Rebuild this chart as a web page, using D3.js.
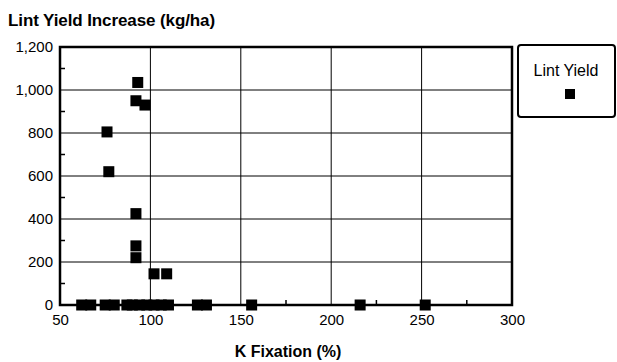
<!DOCTYPE html>
<html>
<head>
<meta charset="utf-8">
<script src="https://cdn.jsdelivr.net/npm/d3@7"></script>
<style>
  body { margin: 0; background: #fff; }
  svg { display: block; font-family: "Liberation Sans", Arial, sans-serif; }
</style>
</head>
<body>
<div id="chart"></div>
<script>
// K fixation (%) vs lint yield increase (kg/ha)
const kFixation = [93, 92, 97, 76, 77, 92, 92, 92, 102, 109,
  62, 67, 75, 80, 87, 90, 94, 98, 102, 106, 110, 126, 131, 156, 216, 252];
const lintYield = [1035, 950, 930, 805, 620, 425, 275, 220, 145, 145,
  0, 0, 0, 0, 0, 0, 0, 0, 0, 0, 0, 0, 0, 0, 0, 0];
const xTicks = [50, 100, 150, 200, 250, 300];
const yTicks = [0, 200, 400, 600, 800, 1000, 1200];
const seriesName = 'Lint Yield';

const width = 617, height = 362;
const margin = { top: 47, right: 105, bottom: 57, left: 60 };

const svg = d3.select('#chart').append('svg')
  .attr('width', width)
  .attr('height', height);

const x = d3.scaleLinear().domain([50, 300]).range([margin.left, width - margin.right]);
const y = d3.scaleLinear().domain([0, 1200]).range([height - margin.bottom, margin.top]);

// grid
svg.append('g')
  .selectAll('line')
  .data(xTicks.slice(1, -1))
  .join('line')
  .attr('x1', d => x(d)).attr('x2', d => x(d))
  .attr('y1', y(1200)).attr('y2', y(0))
  .attr('stroke', '#000').attr('stroke-width', 1);

svg.append('g')
  .selectAll('line')
  .data(yTicks.slice(1, -1))
  .join('line')
  .attr('x1', x(50)).attr('x2', x(300))
  .attr('y1', d => y(d)).attr('y2', d => y(d))
  .attr('stroke', '#000').attr('stroke-width', 1);

// minor ticks pointing inward
const xMinor = d3.range(75, 300, 50);
const yMinor = d3.range(100, 1200, 200);
svg.append('g')
  .selectAll('line')
  .data(xMinor)
  .join('line')
  .attr('x1', d => x(d)).attr('x2', d => x(d))
  .attr('y1', y(0)).attr('y2', y(0) - 5)
  .attr('stroke', '#000').attr('stroke-width', 1.5);
svg.append('g')
  .selectAll('line')
  .data(yMinor)
  .join('line')
  .attr('x1', x(50)).attr('x2', x(50) + 5)
  .attr('y1', d => y(d)).attr('y2', d => y(d))
  .attr('stroke', '#000').attr('stroke-width', 1.5);

// frame
svg.append('rect')
  .attr('x', x(50)).attr('y', y(1200))
  .attr('width', x(300) - x(50)).attr('height', y(0) - y(1200))
  .attr('fill', 'none').attr('stroke', '#000').attr('stroke-width', 2.5);

// axes labels
const fmt = d3.format(',');
svg.append('g')
  .attr('transform', `translate(${x(50)},0)`)
  .call(d3.axisLeft(y).tickValues(yTicks).tickFormat(fmt).tickSize(0).tickPadding(7))
  .call(g => g.select('.domain').remove())
  .call(g => g.selectAll('text').attr('font-size', 15).attr('font-family', null).attr('fill', '#000'));

svg.append('g')
  .attr('transform', `translate(0,${y(0)})`)
  .call(d3.axisBottom(x).tickValues(xTicks).tickSize(0).tickPadding(9))
  .call(g => g.select('.domain').remove())
  .call(g => g.selectAll('text').attr('font-size', 15).attr('font-family', null).attr('fill', '#000'));

// points
const sz = 11;
svg.append('g')
  .selectAll('rect')
  .data(kFixation.map((k, i) => ({ k, v: lintYield[i] })))
  .join('rect')
  .attr('x', d => x(d.k) - sz / 2)
  .attr('y', d => y(d.v) - sz / 2)
  .attr('width', sz).attr('height', sz)
  .attr('fill', '#000');

// titles
svg.append('text')
  .attr('x', 8).attr('y', 26)
  .attr('font-size', 17).attr('font-weight', 'bold')
  .attr('letter-spacing', -0.1)
  .text('Lint Yield Increase (kg/ha)');

svg.append('text')
  .attr('x', (x(50) + x(300)) / 2 + 2).attr('y', 357)
  .attr('text-anchor', 'middle')
  .attr('font-size', 16).attr('font-weight', 'bold')
  .text('K Fixation (%)');

// legend
const legend = svg.append('g').attr('transform', 'translate(518,45)');
legend.append('rect')
  .attr('width', 97).attr('height', 72).attr('rx', 3)
  .attr('fill', '#fff').attr('stroke', '#000').attr('stroke-width', 2);
legend.append('text')
  .attr('x', 48).attr('y', 31)
  .attr('text-anchor', 'middle')
  .attr('font-size', 16)
  .text(seriesName);
legend.append('rect')
  .attr('x', 47).attr('y', 44).attr('width', 10).attr('height', 10)
  .attr('fill', '#000');
</script>
</body>
</html>
